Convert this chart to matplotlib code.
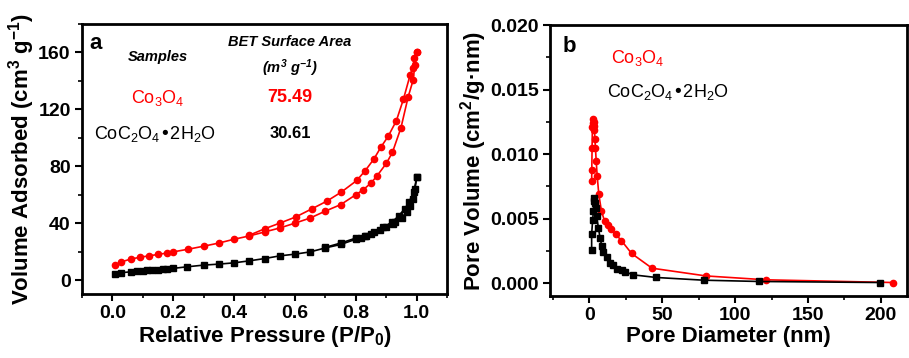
import matplotlib
matplotlib.use("Agg")
from matplotlib import pyplot as plt
from matplotlib.ticker import MultipleLocator, FormatStrFormatter

plt.rcParams["font.family"] = ["Liberation Sans", "DejaVu Sans"]
plt.rcParams["mathtext.default"] = "regular"

# panel a: N2 isotherms
co3o4_ads_p = [0.01, 0.03, 0.06, 0.09, 0.12, 0.15, 0.18, 0.2, 0.25, 0.3, 0.35, 0.4, 0.45,
               0.5, 0.55, 0.6, 0.65, 0.7, 0.75, 0.8, 0.825, 0.85, 0.87, 0.9, 0.92, 0.948,
               0.972, 0.988, 0.994, 1.0]
co3o4_ads_v = [10.5, 12.8, 14.7, 16.0, 17.0, 18.0, 19.0, 19.8, 21.7, 23.8, 26.0, 28.7, 31.0,
               33.8, 36.6, 40.0, 43.6, 48.5, 53.0, 60.0, 63.6, 68.3, 73.4, 82.0, 89.7, 107.0,
               129.0, 140.5, 151.5, 160.0]
co3o4_des_p = [1.0, 0.992, 0.986, 0.978, 0.956, 0.933, 0.906, 0.883, 0.859, 0.831, 0.803,
               0.752, 0.705, 0.655, 0.602, 0.55, 0.5, 0.45]
co3o4_des_v = [160.0, 156.0, 149.0, 144.0, 127.0, 112.0, 101.0, 93.7, 85.0, 77.0, 70.0,
               61.8, 55.5, 50.0, 44.3, 40.0, 36.0, 31.5]

oxalate_ads_p = [0.01, 0.028, 0.06, 0.08, 0.1, 0.115, 0.13, 0.15, 0.165, 0.18, 0.2, 0.245,
                 0.3, 0.35, 0.4, 0.45, 0.5, 0.55, 0.6, 0.65, 0.7, 0.75, 0.8, 0.817, 0.833,
                 0.85, 0.878, 0.9, 0.922, 0.93, 0.95, 0.967, 0.978, 0.989, 0.994, 1.0]
oxalate_ads_v = [4.0, 5.1, 5.8, 6.2, 6.5, 6.8, 7.0, 7.3, 7.6, 7.9, 8.2, 9.3,
                 10.5, 11.2, 12.1, 13.5, 15.1, 17.0, 18.2, 19.8, 22.6, 25.0, 28.7, 29.6, 30.8,
                 32.6, 35.4, 37.3, 39.6, 41.0, 43.8, 47.8, 52.4, 57.0, 64.0, 72.3]
oxalate_des_p = [1.0, 0.99, 0.975, 0.96, 0.94, 0.92, 0.89, 0.86, 0.83, 0.8, 0.75, 0.7]
oxalate_des_v = [72.3, 62.0, 55.0, 50.0, 45.0, 41.0, 37.0, 33.5, 31.0, 29.5, 26.0, 23.0]

# panel b: pore size distribution
co3o4_d = [1.6, 1.7, 1.9, 2.1, 2.3, 2.6, 2.9, 3.2, 3.5, 3.8, 4.2, 4.7, 5.4, 6.5, 8.3,
           10.5, 12.5, 15.0, 18.0, 22.0, 29.0, 43.0, 80.0, 121.0, 208.0]
co3o4_pv = [0.0079, 0.0088, 0.0105, 0.0121, 0.0124, 0.0127, 0.0125, 0.0122, 0.0119, 0.0112,
            0.0105, 0.0095, 0.0083, 0.0069, 0.0056, 0.0048, 0.0045, 0.0042, 0.0038, 0.0033,
            0.0023, 0.00116, 0.00056, 0.00026, 0.00005]
oxalate_d = [1.6, 1.6, 2.3, 2.8, 3.2, 3.5, 3.9, 4.6, 5.1, 6.2, 7.4, 8.5, 9.6, 12.0, 14.2,
             16.5, 18.8, 22.2, 24.4, 29.7, 45.9, 78.4, 116.7, 199.5]
oxalate_pv = [0.0026, 0.0038, 0.0049, 0.0056, 0.0064, 0.0066, 0.0062, 0.0058, 0.0052, 0.0043,
              0.0035, 0.0029, 0.0024, 0.0020, 0.0016, 0.0014, 0.0011, 0.0010, 0.0009, 0.00065,
              0.00044, 0.00023, 0.00013, 0.00005]

red = "#ff0000"

fig = plt.figure(figsize=(9.09, 3.58), dpi=100)
ax1 = fig.add_axes([0.090, 0.178, 0.402, 0.755])
ax2 = fig.add_axes([0.605, 0.173, 0.393, 0.757])

ax1.plot(co3o4_ads_p, co3o4_ads_v, "-o", color=red, ms=4.5, lw=1.2)
ax1.plot(co3o4_des_p, co3o4_des_v, "-o", color=red, ms=4.5, lw=1.2)
ax1.plot(oxalate_ads_p, oxalate_ads_v, "-s", color="black", ms=4, lw=1.2)
ax1.plot(oxalate_des_p, oxalate_des_v, "-s", color="black", ms=4, lw=1.2)
ax1.set_xlim(-0.1, 1.1)
ax1.set_ylim(-10, 180)
ax1.xaxis.set_major_locator(MultipleLocator(0.2))
ax1.xaxis.set_minor_locator(MultipleLocator(0.1))
ax1.yaxis.set_major_locator(MultipleLocator(40))
ax1.yaxis.set_minor_locator(MultipleLocator(20))
ax1.xaxis.set_major_formatter(FormatStrFormatter("%.1f"))
ax1.set_xlabel("Relative Pressure (P/P$_0$)", fontsize=16, fontweight="bold", labelpad=1)
ax1.set_ylabel("Volume Adsorbed (cm$^3$ g$^{-1}$)", fontsize=16, fontweight="bold", labelpad=1)

t1 = ax1.transAxes
ax1.text(0.022, 0.907, "a", transform=t1, fontsize=16, fontweight="bold")
ax1.text(0.208, 0.863, "Samples", transform=t1, fontsize=10.5,
         fontweight="bold", style="italic", ha="center")
ax1.text(0.57, 0.918, "BET Surface Area", transform=t1, fontsize=10.5,
         fontweight="bold", style="italic", ha="center")
ax1.text(0.57, 0.819, "(m$^3$ g$^{-1}$)", transform=t1, fontsize=10.5,
         fontweight="bold", style="italic", ha="center")
ax1.text(0.208, 0.707, "Co$_3$O$_4$", transform=t1, fontsize=13,
         color=red, ha="center")
ax1.text(0.57, 0.711, "75.49", transform=t1, fontsize=13,
         color=red, fontweight="bold", ha="center")
ax1.text(0.2, 0.574, "CoC$_2$O$_4$•2H$_2$O", transform=t1, fontsize=13,
         ha="center")
ax1.text(0.57, 0.578, "30.61", transform=t1, fontsize=12,
         fontweight="bold", ha="center")

ax2.plot(co3o4_d, co3o4_pv, "-o", color=red, ms=4.5, lw=1.2)
ax2.plot(oxalate_d, oxalate_pv, "-s", color="black", ms=4, lw=1.2)
ax2.set_xlim(-27, 218)
ax2.set_ylim(-0.001, 0.020)
ax2.xaxis.set_major_locator(MultipleLocator(50))
ax2.xaxis.set_minor_locator(MultipleLocator(25))
ax2.yaxis.set_major_locator(MultipleLocator(0.005))
ax2.yaxis.set_minor_locator(MultipleLocator(0.0025))
ax2.yaxis.set_major_formatter(FormatStrFormatter("%.3f"))
ax2.set_xlabel("Pore Diameter (nm)", fontsize=16, fontweight="bold", labelpad=1)
ax2.set_ylabel("Pore Volume (cm$^2$/g·nm)", fontsize=16, fontweight="bold", labelpad=1)

t2 = ax2.transAxes
ax2.text(0.034, 0.90, "b", transform=t2, fontsize=16, fontweight="bold")
ax2.text(0.171, 0.86, "Co$_3$O$_4$", transform=t2, fontsize=13, color=red)
ax2.text(0.16, 0.734, "CoC$_2$O$_4$•2H$_2$O", transform=t2, fontsize=13)

for ax in (ax1, ax2):
    for s in ax.spines.values():
        s.set_linewidth(2)
    ax.tick_params(which="major", direction="out", length=5, width=1.5,
                   labelsize=14, pad=3)
    ax.tick_params(which="minor", direction="out", length=3, width=1.2)
    for lab in ax.get_xticklabels() + ax.get_yticklabels():
        lab.set_fontweight("bold")

fig.savefig("out.png", dpi=100)
